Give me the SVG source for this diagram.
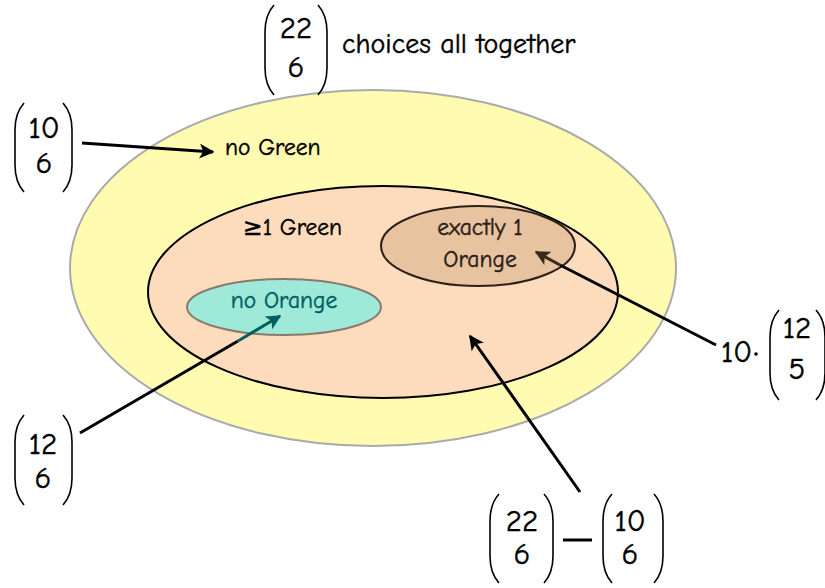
<svg xmlns="http://www.w3.org/2000/svg" width="825" height="588" viewBox="0 0 825 588">
<style>
text{font-family:"Comic Neue","Comic Sans MS","DejaVu Sans","Liberation Sans",sans-serif;fill:#000;stroke:#000;stroke-width:0.45}
.num{font-size:31px;text-anchor:middle}
.lbl{font-size:23.5px}
.par{fill:none;stroke:#000;stroke-width:1.6}
.arr{stroke:#000;stroke-width:3;fill:none}
</style>
<defs>
<marker id="ah" viewBox="0 0 10 10" refX="9" refY="5" markerWidth="5" markerHeight="5" orient="auto"><path d="M0,0 L10,5 L0,10 L2.5,5 Z" fill="#000"/></marker>
<marker id="ahT" viewBox="0 0 10 10" refX="9" refY="5" markerWidth="5" markerHeight="5" orient="auto"><path d="M0,0 L10,5 L0,10 L2.5,5 Z" fill="#005f5f"/></marker>
<marker id="ahB" viewBox="0 0 10 10" refX="9" refY="5" markerWidth="5" markerHeight="5" orient="auto"><path d="M0,0 L10,5 L0,10 L2.5,5 Z" fill="#3a2818"/></marker>
</defs>

<g id="all">
<ellipse cx="373" cy="268" rx="303" ry="178" fill="#fffbb0" stroke="#aaaaaa" stroke-width="2"/>
<text class="lbl" x="225" y="155">no Green</text>
</g>
<g id="green">
<ellipse cx="383" cy="292" rx="235" ry="106" fill="#fddcbd" stroke="#000" stroke-width="2"/>
<text class="lbl" x="243" y="235">≥1 Green</text>
</g>
<g id="exactly1">
<ellipse cx="478" cy="246" rx="97" ry="40" fill="#e8c39f" stroke="#2a2018" stroke-width="2"/>
<text class="lbl" x="480" y="235" text-anchor="middle" style="fill:#2a2018;stroke:#2a2018">exactly 1</text>
<text class="lbl" x="480" y="267" text-anchor="middle" style="fill:#2a2018;stroke:#2a2018">Orange</text>
</g>
<g id="noorange">
<ellipse cx="284" cy="307" rx="97" ry="28" fill="#9fe9d9" stroke="#8a7a6e" stroke-width="2"/>
<text class="lbl" x="284" y="308" text-anchor="middle" style="fill:#005f5f;stroke:#005f5f">no Orange</text>
</g>

<g id="total">
<path class="par" d="M274,5 Q265,15 265,32 L265,68 Q265,85 274,95"/>
<path class="par" d="M318,5 Q327,15 327,32 L327,68 Q327,85 318,95"/>
<text class="num" x="296" y="38">22</text>
<text class="num" x="296" y="77">6</text>
<text x="342" y="53" style="font-size:28px">choices all together</text>
</g>

<g id="c10_6">
<path class="par" d="M24,103 Q15,113 15,130 L15,165 Q15,182 24,192"/>
<path class="par" d="M63,103 Q72,113 72,130 L72,165 Q72,182 63,192"/>
<text class="num" x="44" y="138">10</text>
<text class="num" x="44" y="173">6</text>
</g>

<g id="c12_6">
<path class="par" d="M24,415 Q15,425 15,442 L15,478 Q15,495 24,505"/>
<path class="par" d="M63,415 Q72,425 72,442 L72,478 Q72,495 63,505"/>
<text class="num" x="43" y="454">12</text>
<text class="num" x="43" y="488">6</text>
</g>

<g id="c10_12_5">
<text x="721" y="362" style="font-size:31px">10</text>
<circle cx="756" cy="354" r="1.8" fill="#000"/>
<path class="par" d="M779,310 Q770,320 770,337 L770,373 Q770,390 779,400"/>
<path class="par" d="M816,310 Q825,320 825,337 L825,373 Q825,390 816,400"/>
<text class="num" x="797" y="338">12</text>
<text class="num" x="797" y="379">5</text>
</g>

<g id="diff">
<path class="par" d="M499,494 Q490,504 490,521 L490,556 Q490,573 499,583"/>
<path class="par" d="M544,494 Q553,504 553,521 L553,556 Q553,573 544,583"/>
<text class="num" x="522" y="531">22</text>
<text class="num" x="522" y="564">6</text>
<line x1="563" y1="540" x2="592" y2="540" stroke="#000" stroke-width="3"/>
<path class="par" d="M612,494 Q603,504 603,521 L603,556 Q603,573 612,583"/>
<path class="par" d="M654,494 Q663,504 663,521 L663,556 Q663,573 654,583"/>
<text class="num" x="630" y="531">10</text>
<text class="num" x="630" y="564">6</text>
</g>

<g id="connectors">
<line class="arr" x1="82" y1="143" x2="213" y2="152" marker-end="url(#ah)"/>
<line class="arr" x1="80" y1="433" x2="238" y2="341"/>
<line x1="238" y1="341" x2="280" y2="316" stroke="#005f5f" stroke-width="3" marker-end="url(#ahT)"/>
<line class="arr" x1="716" y1="345" x2="560" y2="265"/>
<line x1="560" y1="265" x2="536" y2="252" stroke="#3a2818" stroke-width="3" marker-end="url(#ahB)"/>
<line class="arr" x1="580" y1="492" x2="470" y2="336" marker-end="url(#ah)"/>
</g>
</svg>
